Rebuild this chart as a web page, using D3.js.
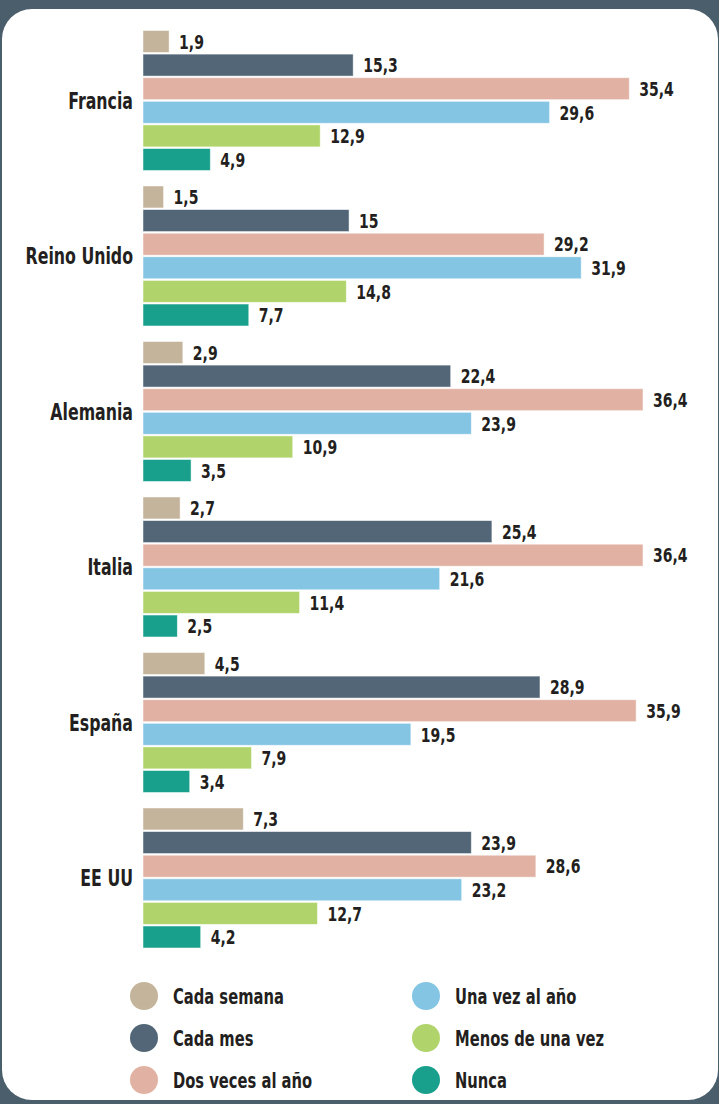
<!DOCTYPE html>
<html>
<head>
<meta charset="utf-8">
<script src="https://cdn.jsdelivr.net/npm/d3@7"></script>
<style>
  html, body { margin: 0; padding: 0; background: #4a5e6b; }
  svg { display: block; }
  text { font-family: "DejaVu Sans Condensed", "DejaVu Sans", sans-serif; font-weight: bold; fill: #231f20; }
</style>
</head>
<body>
<svg id="chart"></svg>
<script>
// Data
const countries = ["Francia", "Reino Unido", "Alemania", "Italia", "España", "EE UU"];
const series = ["Cada semana", "Cada mes", "Dos veces al año", "Una vez al año", "Menos de una vez", "Nunca"];
const colors = ["#c4b49b", "#526677", "#e1b2a4", "#85c5e4", "#b0d46b", "#19a08c"];

const cadaSemana   = [1.9, 1.5, 2.9, 2.7, 4.5, 7.3];
const cadaMes      = [15.3, 15, 22.4, 25.4, 28.9, 23.9];
const dosVeces     = [35.4, 29.2, 36.4, 36.4, 35.9, 28.6];
const unaVez       = [29.6, 31.9, 23.9, 21.6, 19.5, 23.2];
const menosDeUna   = [12.9, 14.8, 10.9, 11.4, 7.9, 12.7];
const nunca        = [4.9, 7.7, 3.5, 2.5, 3.4, 4.2];

const values = [cadaSemana, cadaMes, dosVeces, unaVez, menosDeUna, nunca];

const width = 719;
const height = 1104;
// the original uses a condensed face, so squeeze the text horizontally
const squeeze = 0.78;

const svg = d3.select("#chart")
    .attr("width", width)
    .attr("height", height);

// Background and white panel
svg.append("rect")
    .attr("width", width)
    .attr("height", height)
    .attr("fill", "#4a5e6b");

svg.append("rect")
    .attr("x", 2)
    .attr("y", 9)
    .attr("width", 716)
    .attr("height", 1091)
    .attr("rx", 30)
    .attr("ry", 30)
    .attr("fill", "#ffffff");

// Scales
const x = d3.scaleLinear()
    .domain([0, 36.4])
    .range([143, 643]);

const y0 = d3.scaleBand()
    .domain(countries)
    .range([30.5, 30.5 + 155.5 * 6])
    .paddingInner(0)
    .paddingOuter(0);

const y1 = d3.scaleBand()
    .domain(series)
    .range([0, 23.33 * 6])
    .paddingInner(0.07)
    .paddingOuter(0);

// Country groups
const groups = svg.selectAll(".country")
    .data(countries)
    .enter()
    .append("g")
    .attr("class", "country")
    .attr("transform", d => `translate(0,${y0(d)})`);

groups.append("text")
    .attr("transform", `translate(133,${(23.33 * 6) / 2}) scale(${squeeze},1)`)
    .attr("dy", "0.36em")
    .attr("text-anchor", "end")
    .style("font-size", "22.5px")
    .text(d => d);

// Bars
groups.each(function(c, ci) {
    const g = d3.select(this);
    const rows = series.map((s, si) => ({ s: s, v: values[si][ci], color: colors[si] }));

    g.selectAll("rect")
        .data(rows)
        .enter()
        .append("rect")
        .attr("x", x(0))
        .attr("y", d => y1(d.s))
        .attr("width", d => x(d.v) - x(0))
        .attr("height", y1.bandwidth())
        .attr("fill", d => d.color)
        .attr("stroke", "#ffffff")
        .attr("stroke-opacity", 0.6)
        .attr("stroke-width", 0.8);

    g.selectAll(".value")
        .data(rows)
        .enter()
        .append("text")
        .attr("class", "value")
        .attr("transform", d => `translate(${x(d.v) + 10},${y1(d.s) + y1.bandwidth() / 2}) scale(${squeeze},1)`)
        .attr("dy", "0.36em")
        .style("font-size", "20px")
        .text(d => String(d.v).replace(".", ","));
});

// Legend
const legendCols = [144, 426];
const legendRows = [996, 1038, 1080];
const legend = svg.selectAll(".legend")
    .data(series)
    .enter()
    .append("g")
    .attr("class", "legend")
    .attr("transform", (d, i) => `translate(${legendCols[Math.floor(i / 3)]},${legendRows[i % 3]})`);

legend.append("circle")
    .attr("r", 14)
    .attr("fill", (d, i) => colors[i]);

legend.append("text")
    .attr("transform", `translate(29,0) scale(${squeeze},1)`)
    .attr("dy", "0.36em")
    .style("font-size", "21px")
    .text(d => d);
</script>
</body>
</html>
